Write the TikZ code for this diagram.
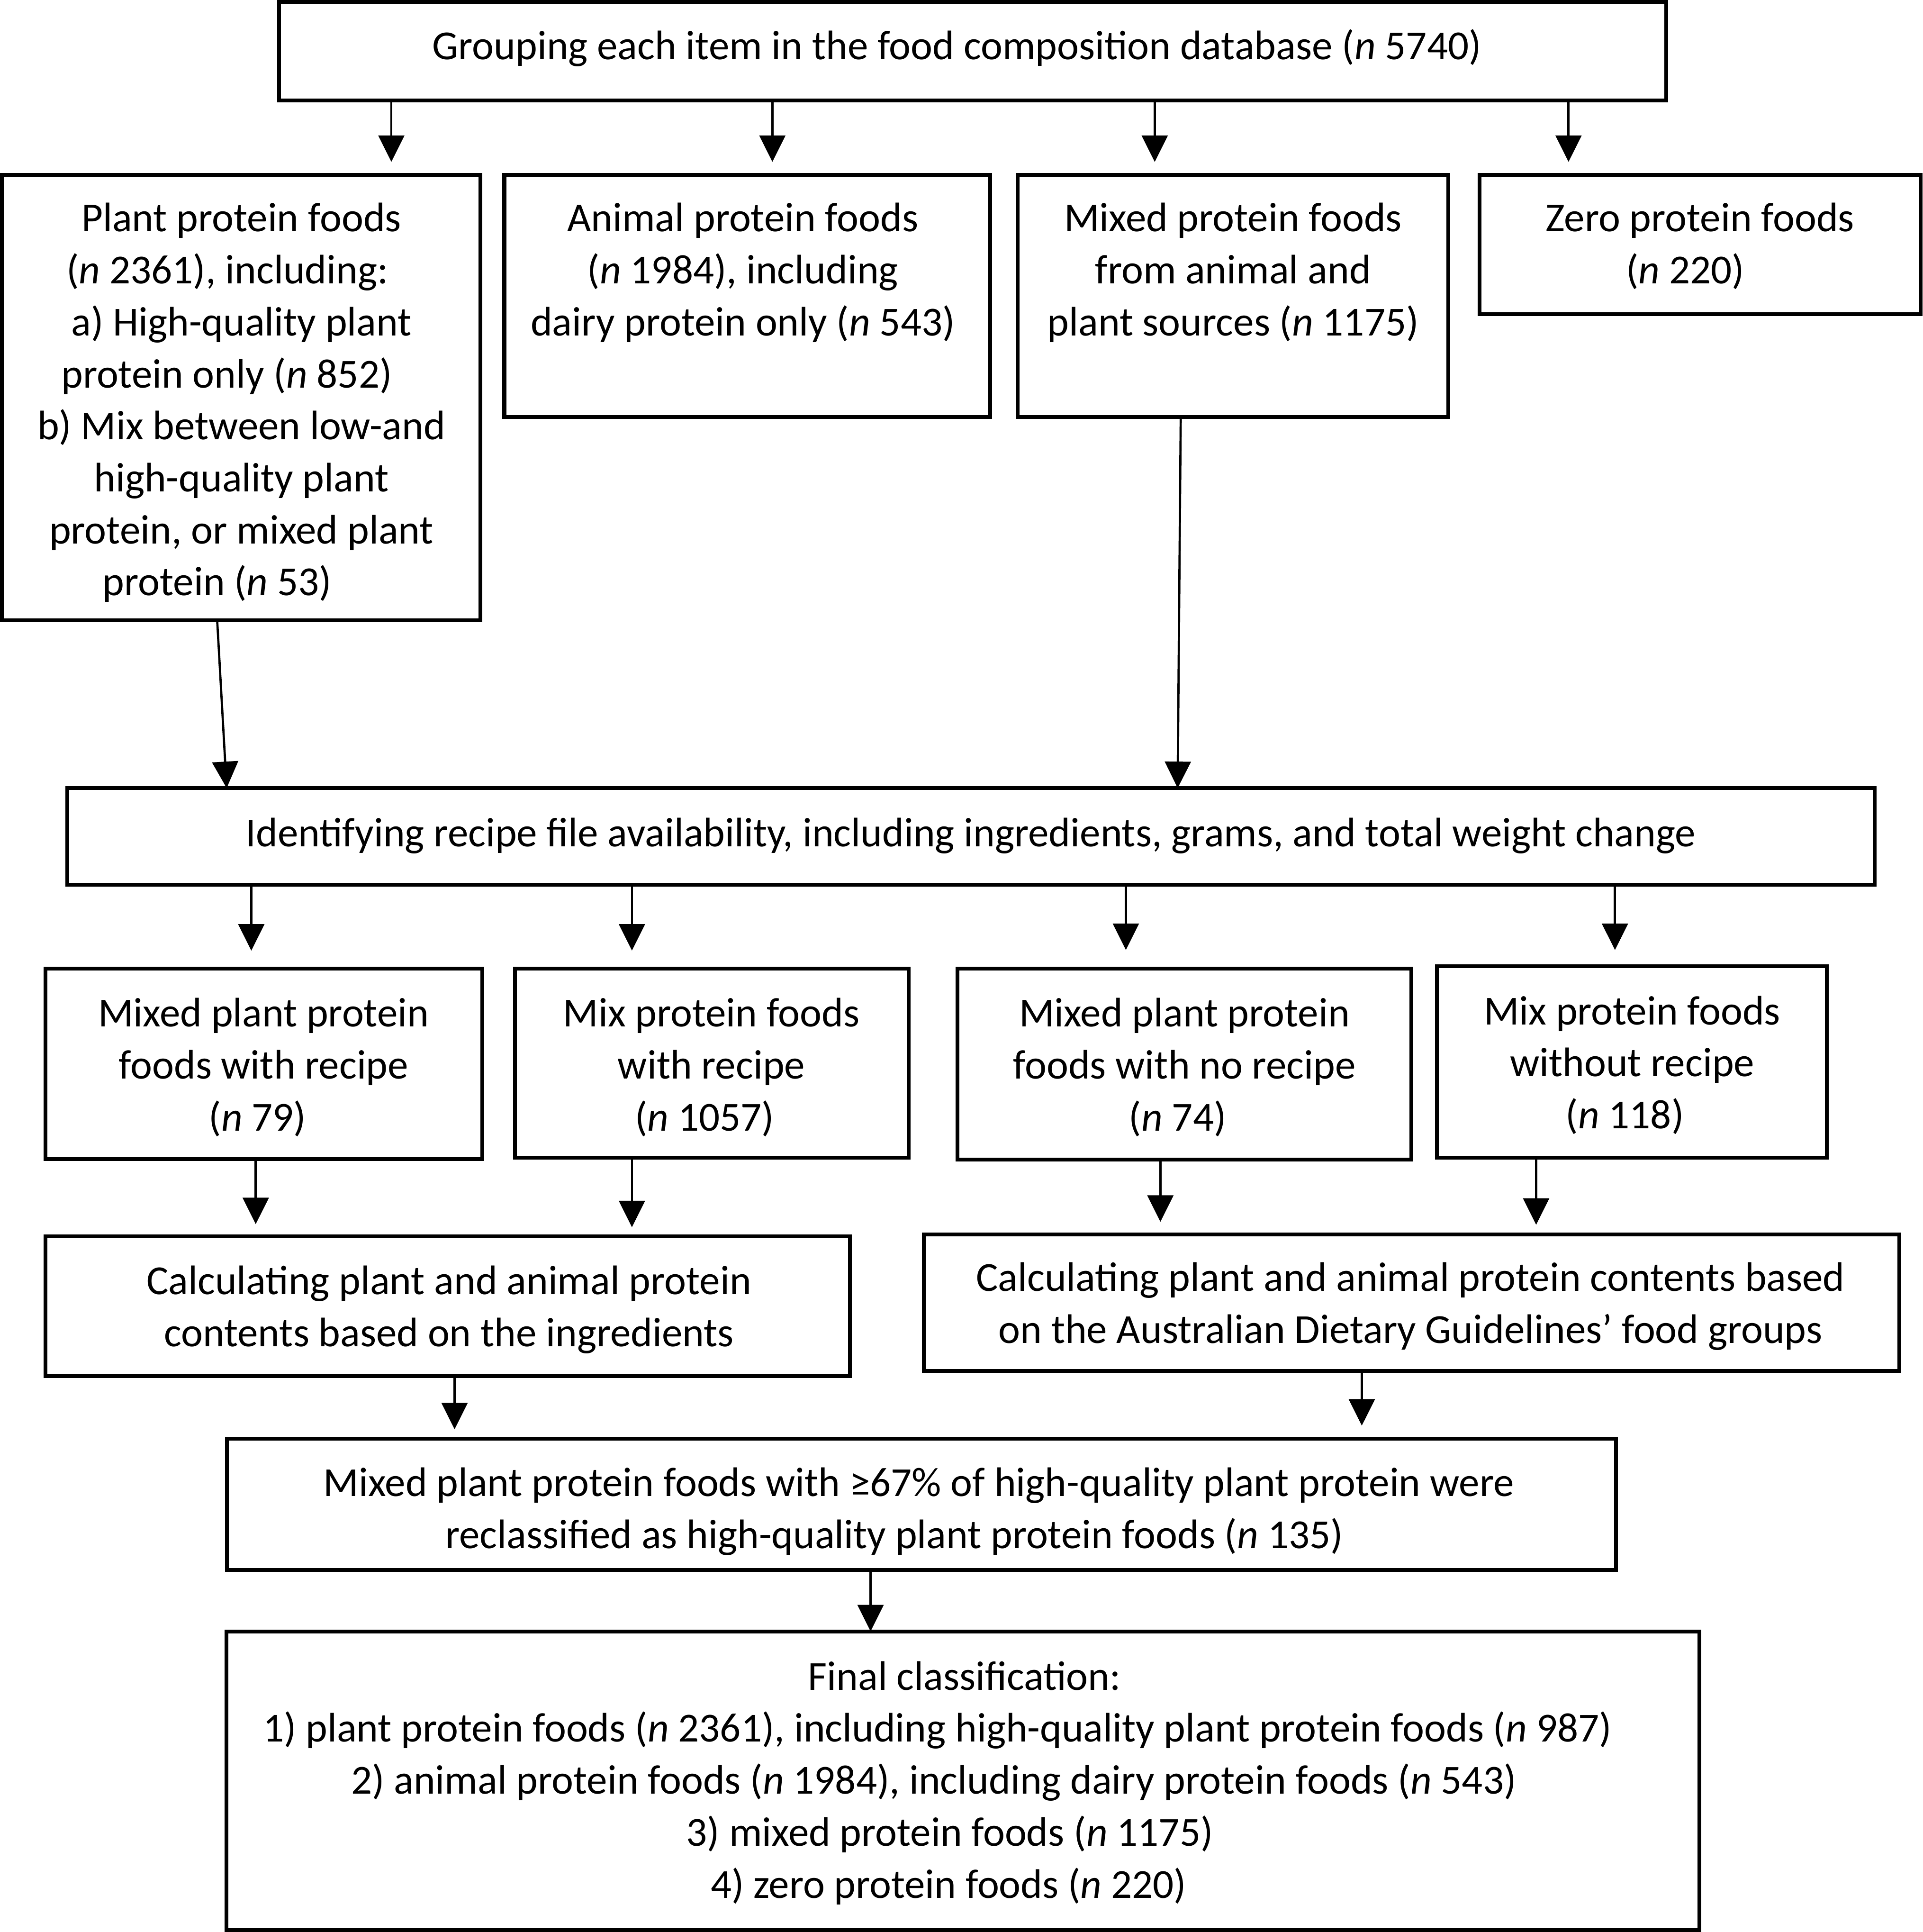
\documentclass[tikz,border=0pt]{standalone}
\usepackage{fontspec}
\setmainfont{Carlito}
\usetikzlibrary{arrows.meta}
\newcommand\mainfs{\fontsize{33.5}{42.2}\selectfont}
\newcommand\NN{\textit{n}}
\newcommand\fstrut{\vrule height 30pt depth 0pt width 0pt}
\newcommand\rs[1]{\mbox{}\hspace*{#1}\mbox{}}
\tikzset{
  box/.style={draw, line width=3.1pt, inner sep=0pt, outer sep=0pt, anchor=north west},
  txt/.style={inner sep=0pt, outer sep=0pt, anchor=north, align=center, font=\mainfs, yshift=-2.5pt},
  arr/.style={line width=1.8pt, -{Triangle[length=21.5pt,width=21pt]}}
}
\begin{document}
\begin{tikzpicture}[x=1pt,y=-1pt]
\fill[white] (0,0) rectangle (1561,1568);
\useasboundingbox (0,0) rectangle (1561,1568);
% boxes
\node[box, minimum width=1126pt, minimum height=80pt] (top) at (226.6,1.5) {};
\node[box, minimum width=388.5pt, minimum height=361.5pt] (plant) at (1.5,142) {};
\node[box, minimum width=394.3pt, minimum height=196.5pt] (animal) at (409.4,142) {};
\node[box, minimum width=349.7pt, minimum height=196.5pt] (mixed) at (826,142) {};
\node[box, minimum width=358pt, minimum height=113pt] (zero) at (1201,142) {};
\node[box, minimum width=1467.4pt, minimum height=78.4pt] (recipe) at (54.6,639.6) {};
\node[box, minimum width=354.5pt, minimum height=154.8pt] (mpr) at (37,786) {};
\node[box, minimum width=319.6pt, minimum height=153.7pt] (mixr) at (418,786) {};
\node[box, minimum width=368.4pt, minimum height=155pt] (mpn) at (777.4,786) {};
\node[box, minimum width=316.5pt, minimum height=155.3pt] (mixn) at (1166.5,784.3) {};
\node[box, minimum width=653pt, minimum height=113.6pt] (calcl) at (37,1003.4) {};
\node[box, minimum width=792pt, minimum height=110.5pt] (calcr) at (750,1002) {};
\node[box, minimum width=1127.7pt, minimum height=106.8pt] (reclass) at (184.3,1167.5) {};
\node[box, minimum width=1195.5pt, minimum height=242.5pt] (final) at (184,1324) {};
% texts
\node[txt] (top-t) at (776.8,15.7) {\fstrut Grouping each item in the food composition database (\NN\ 5740)};
\node[txt] (plant-t) at (196,155.5) {\fstrut Plant protein foods\\(\NN\ 2361), including:\rs{22.8pt}\\a) High-quality plant\\protein only (\NN\ 852)\rs{24pt}\\b) Mix between low-and\\high-quality plant\\protein, or mixed plant\\protein (\NN\ 53)\rs{39.4pt}};
\node[txt] (animal-t) at (603,155.5) {\fstrut Animal protein foods\\(\NN\ 1984), including\\dairy protein only (\NN\ 543)};
\node[txt] (mixed-t) at (1001,155.5) {\fstrut Mixed protein foods\\from animal and\\plant sources (\NN\ 1175)};
\node[txt] (zero-t) at (1380,155.5) {\fstrut Zero protein foods\\(\NN\ 220)\rs{24pt}};
\node[txt] (recipe-t) at (788,654.6) {\fstrut Identifying recipe file availability, including ingredients, grams, and total weight change};
\node[txt] (mpr-t) at (214,800.8) {\fstrut Mixed plant protein\\foods with recipe\\(\NN\ 79)\rs{10pt}};
\node[txt] (mixr-t) at (577.5,800.8) {\fstrut Mix protein foods\\with recipe\\(\NN\ 1057)\rs{11pt}};
\node[txt] (mpn-t) at (961.5,800.8) {\fstrut Mixed plant protein\\foods with no recipe\\(\NN\ 74)\rs{11pt}};
\node[txt] (mixn-t) at (1325,799) {\fstrut Mix protein foods\\without recipe\\(\NN\ 118)\rs{12pt}};
\node[txt] (calcl-t) at (364.5,1018) {\fstrut Calculating plant and animal protein\\contents based on the ingredients};
\node[txt] (calcr-t) at (1145,1015.5) {\fstrut Calculating plant and animal protein contents based\\on the Australian Dietary Guidelines’ food groups};
\node[txt] (reclass-t) at (746,1182) {\fstrut Mixed plant protein foods with ≥67\% of high-quality plant protein were\\reclassified as high-quality plant protein foods (\NN\ 135)\rs{40pt}};
\node[txt] (final-t) at (783,1339) {\fstrut Final classification:\\1) plant protein foods (\NN\ 2361), including high-quality plant protein foods (\NN\ 987)\rs{44pt}\\2) animal protein foods (\NN\ 1984), including dairy protein foods (\NN\ 543)\rs{50pt}\\3) mixed protein foods (\NN\ 1175)\rs{24pt}\\4) zero protein foods (\NN\ 220)\rs{26pt}};
% arrow end points and columns
\coordinate (t1) at (317.7,131.4);
\coordinate (t2) at (627,131.4);
\coordinate (t3) at (937.4,131.4);
\coordinate (t4) at (1273.3,131.4);
\coordinate (p1) at (176.3,0);
\coordinate (p2) at (184,0);
\coordinate (m1) at (958.5,0);
\coordinate (m2) at (956,0);
\coordinate (r1) at (204,771.5);
\coordinate (r2) at (513,771.5);
\coordinate (r3) at (914,771);
\coordinate (r4) at (1311,771);
\coordinate (s1) at (207.6,993.5);
\coordinate (s2) at (513,996);
\coordinate (s3) at (942,991.6);
\coordinate (s4) at (1247,994);
\coordinate (u1) at (369,1160);
\coordinate (u2) at (1105.5,1157);
\coordinate (f1) at (706.7,0);
% connectors
\draw[arr] (top.south -| t1) -- (t1);
\draw[arr] (top.south -| t2) -- (t2);
\draw[arr] (top.south -| t3) -- (t3);
\draw[arr] (top.south -| t4) -- (t4);
\draw[arr] (plant.south -| p1) -- (recipe.north -| p2);
\draw[arr] (mixed.south -| m1) -- (recipe.north -| m2);
\draw[arr] (recipe.south -| r1) -- (r1);
\draw[arr] (recipe.south -| r2) -- (r2);
\draw[arr] (recipe.south -| r3) -- (r3);
\draw[arr] (recipe.south -| r4) -- (r4);
\draw[arr] (mpr.south -| s1) -- (s1);
\draw[arr] (mixr.south -| s2) -- (s2);
\draw[arr] (mpn.south -| s3) -- (s3);
\draw[arr] (mixn.south -| s4) -- (s4);
\draw[arr] (calcl.south -| u1) -- (u1);
\draw[arr] (calcr.south -| u2) -- (u2);
\draw[arr] (reclass.south -| f1) -- (final.north -| f1);
\end{tikzpicture}
\end{document}
